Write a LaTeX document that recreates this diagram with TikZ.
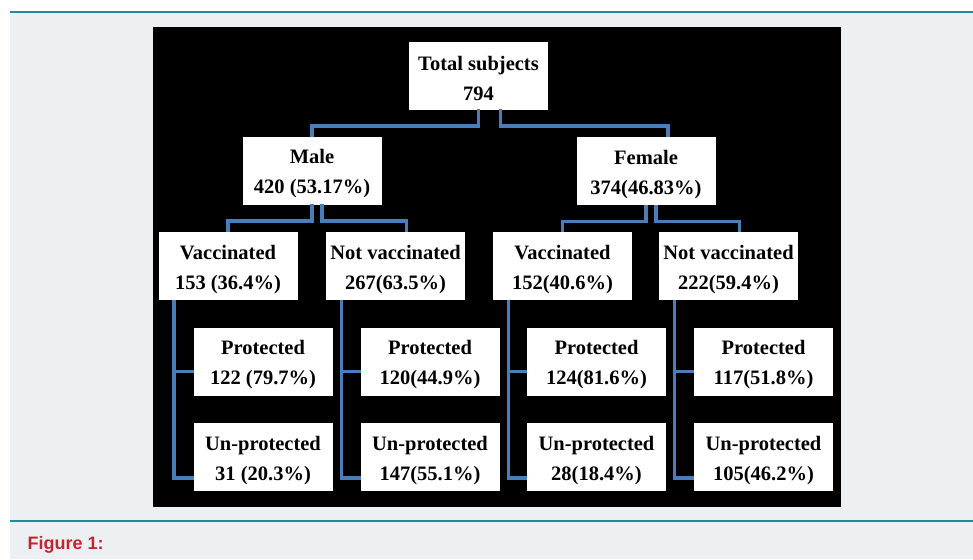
\documentclass[tikz,border=0pt]{standalone}
\usepackage{fontspec}
\setmainfont{Liberation Serif}
\newfontfamily\capfont{Liberation Sans}
\usepackage{tikz}
\definecolor{pagegray}{HTML}{EDF0F3}
\definecolor{ruleteal}{HTML}{1E8C9E}
\definecolor{linkblue}{HTML}{4A7EBB}
\definecolor{capred}{HTML}{C42432}
\newcommand\twolines[2]{\rule{0pt}{20.5pt}#1\\#2}

\begin{document}
\begin{tikzpicture}[x=1pt,y=-1pt,
    box/.style={draw=white,fill=white,minimum width=138pt,minimum height=67pt,inner sep=0pt,
        align=center,font=\bfseries\fontsize{20.5}{30}\selectfont},
    link/.style={draw=linkblue,line width=3.5pt}]
\useasboundingbox (0,0) rectangle (973,559);
\fill[white] (0,0) rectangle (973,559);
\fill[pagegray] (10,12) rectangle (973,559);
\draw[ruleteal,line width=1.5pt] (10,12) -- (973,12)
        (10,521) -- (973,521);
\fill[black] (153,27) rectangle (841,507);
\node[box] (total) at (478.5,75.5) {\twolines{Total subjects}{794}};
\node[box] (male) at (312,170.5) {\twolines{Male}{420 (53.17\%)}};
\node[box] (female) at (646,171) {\twolines{Female}{374(46.83\%)}};
\node[box] (vm) at (228,266) {\twolines{Vaccinated}{153 (36.4\%)}};
\node[box] (nvm) at (395.5,266) {\twolines{Not vaccinated}{267(63.5\%)}};
\node[box] (vf) at (562.5,266) {\twolines{Vaccinated}{152(40.6\%)}};
\node[box] (nvf) at (728.5,266) {\twolines{Not vaccinated}{222(59.4\%)}};
\node[box] (pm) at (263,361.5) {\twolines{Protected}{122 (79.7\%)}};
\node[box] (um) at (263,457) {\twolines{Un-protected}{31 (20.3\%)}};
\node[box] (pnm) at (430,361.5) {\twolines{Protected}{120(44.9\%)}};
\node[box] (unm) at (430,457) {\twolines{Un-protected}{147(55.1\%)}};
\node[box] (pf) at (596.5,361.5) {\twolines{Protected}{124(81.6\%)}};
\node[box] (uf) at (596.5,457) {\twolines{Un-protected}{28(18.4\%)}};
\node[box] (pnf) at (763.5,361.5) {\twolines{Protected}{117(51.8\%)}};
\node[box] (unf) at (763.5,457) {\twolines{Un-protected}{105(46.2\%)}};
\draw[link] (total.south) -- ++(0,17) -| (male.north);
\draw[link] ([xshift=22pt]total.south) -- ++(0,17) -| ([xshift=22pt]female.north);
\draw[link] (male.south) -- ++(0,17) -| (vm.north);
\draw[link] ([xshift=10pt]male.south) -- ++(0,17) -| ([xshift=11pt]nvm.north);
\draw[link] (female.south) -- ++(0,17) -| (vf.north);
\draw[link] ([xshift=10pt]female.south) -- ++(0,17) -| ([xshift=11pt]nvf.north);
\foreach \up/\p/\u in {vm/pm/um,nvm/pnm/unm,vf/pf/uf,nvf/pnf/unf}{
    \draw[link] ([xshift=15pt]\up.south west) |- ([yshift=-21pt]\u.west);
    \draw[link] ([yshift=-10pt]\p.west) -- ++(-20,0);
}
\node[anchor=west,text=capred,font=\capfont\bfseries\fontsize{18}{20}\selectfont] (cap) at (24,545) {Figure 1:};
\end{tikzpicture}
\end{document}
